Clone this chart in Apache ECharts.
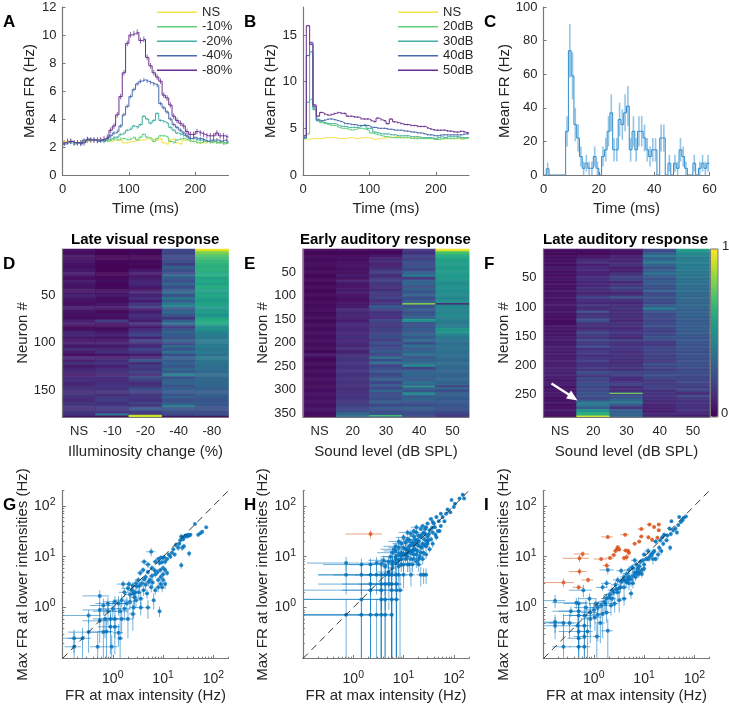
<!DOCTYPE html>
<html><head><meta charset="utf-8">
<style>html,body{margin:0;padding:0;background:#fff}#c{width:729px;height:705px}</style>
<script src="https://cdn.jsdelivr.net/npm/echarts@6/dist/echarts.min.js"></script>
</head><body><div id="c"></div>
<script>
// ---------- Panel A ---------- (mean FR, 5 ms bins)
const aNS =[2.4,2.4,2.4,2.3,2.3,2.4,2.4,2.4,2.5,2.5,2.5,2.5,2.5,2.5,2.4,2.5,2.5,2.5,2.3,2.3,2.4,2.4,2.5,2.5,2.5,2.6,2.6,2.5,2.5,2.6,2.3,2.2,2.5,2.6,2.3,2.2,2.5,2.5,2.4,2.4,2.3,2.3,2.3,2.4,2.3,2.3,2.4,2.3,2.3,2.3];
const a10 =[2.3,2.4,2.4,2.3,2.3,2.4,2.4,2.5,2.5,2.5,2.4,2.5,2.5,2.4,2.5,2.6,2.5,2.6,2.6,2.5,2.6,2.7,2.5,2.7,2.9,2.7,2.6,2.4,2.6,2.8,2.8,2.7,2.4,2.3,2.5,2.6,2.6,2.5,2.4,2.4,2.3,2.3,2.4,2.4,2.3,2.4,2.3,2.3,2.2,2.3];
const a20 =[2.3,2.4,2.3,2.2,2.3,2.3,2.4,2.5,2.5,2.5,2.5,2.4,2.5,2.5,2.6,2.7,2.7,2.9,3.0,3.2,3.3,3.5,3.4,3.6,4.2,4.0,3.7,3.9,4.4,3.9,3.8,3.7,3.4,3.2,3.0,2.9,2.8,2.7,2.6,2.6,2.5,2.5,2.5,2.4,2.4,2.4,2.3,2.4,2.3,2.3];
const a40 =[2.2,2.3,2.4,2.3,2.3,2.2,2.5,2.6,2.5,2.5,2.4,2.5,2.4,2.6,2.8,3.0,3.1,3.5,4.3,4.9,5.6,6.1,6.5,6.7,6.8,6.7,6.6,6.5,6.4,5.1,4.8,4.5,4.0,3.6,3.4,3.2,3.0,2.8,2.6,2.7,2.6,2.6,2.5,2.4,2.5,2.5,2.5,2.4,2.5,2.4];
const a80 =[2.3,2.4,2.4,2.3,2.3,2.3,2.3,2.5,2.5,2.5,2.5,2.5,2.6,2.7,3.2,3.5,4.3,5.6,7.3,9.4,10.0,10.1,10.2,9.6,9.7,8.4,7.8,7.3,7.0,6.7,5.7,5.5,5.0,4.2,3.9,3.7,3.5,3.1,2.9,2.9,3.1,3.0,2.9,2.8,2.8,2.8,3.0,2.8,2.8,2.7];
const aErr=[0.06,0.07,0.09,0.14,0.2];
const aNames=['NS','-10%','-20%','-40%','-80%'];
// ---------- Panel B ----------
const bNS =[3.9,3.8,3.9,3.9,3.9,3.9,4.0,4.0,4.0,4.0,3.9,3.9,3.9,4.0,4.0,3.9,3.9,4.0,4.0,4.0,3.9,3.8,3.9,3.9,4.0,4.0,4.0,4.1,4.1,4.0,4.0,4.0,4.0,4.0,4.0,4.0,3.9,3.9,3.9,3.9,3.8,3.8,3.9,3.9,3.9,3.9,3.9,3.8,3.9,3.9];
const b20 =[4.0,4.4,8.1,7.1,6.0,5.6,5.5,5.4,5.3,5.3,5.1,5.0,5.0,4.9,4.8,4.9,5.0,5.0,4.9,4.8,4.5,4.4,4.3,4.2,4.1,4.1,4.0,4.0,4.0,4.0,4.0,4.0,3.9,3.9,3.9,3.9,3.9,3.9,3.9,3.8,3.8,3.9,3.9,3.9,3.9,3.9,4.0,3.9,3.9,4.0];
const b30 =[3.9,7.8,13.2,7.0,5.8,5.7,5.6,5.5,5.5,5.5,5.3,5.2,5.2,5.1,5.1,5.1,5.1,5.3,5.4,5.0,5.0,4.6,4.5,4.4,4.4,4.4,4.3,4.3,4.2,4.2,4.2,4.2,4.1,4.1,4.1,4.0,4.0,4.0,4.0,3.9,4.0,4.1,4.0,4.1,4.1,4.1,4.1,4.0,4.0,4.0];
const b40 =[4.0,12.8,14.2,7.3,5.9,5.8,5.9,6.0,6.0,5.9,5.8,5.7,5.5,5.5,5.4,5.4,5.3,5.3,5.3,5.3,5.1,5.1,5.0,5.0,5.0,4.9,4.9,4.8,4.8,4.8,4.7,4.7,4.6,4.6,4.5,4.5,4.4,4.3,4.3,4.2,4.2,4.3,4.3,4.3,4.3,4.3,4.3,4.3,4.4,4.4];
const b50 =[4.2,16,14,7.5,6.3,6.7,6.5,6.4,6.5,6.6,6.7,6.6,6.6,6.3,6.3,6.2,6.2,6.0,6.0,6.0,5.8,5.7,6.1,5.9,5.8,5.5,6.0,5.7,5.6,5.5,5.4,5.4,5.3,5.3,5.2,5.2,5.2,5.0,4.9,4.8,4.8,4.8,4.8,4.7,4.7,4.6,4.6,4.7,4.6,4.5];
const bErr=[0.03,0.06,0.07,0.08,0.09];
const bNames=['NS','20dB','30dB','40dB','50dB'];
// ---------- Panel C ---------- (1 ms bins)
const cVal=[0,3.7,0,0,0,0,0,0,26,74,59,30,22,11,4,7,4,4,11,4,0,11,15,26,37,15,15,33,30,37,41,15,26,15,26,26,22,15,11,15,15,0,22,22,0,7,0,7,4,15,11,4,0,0,7,0,4,7,4,7];
const cErr=[0,3.7,0,0,0,0,0,0,9,16,14,10,8,6,4,5,4,4,6,4,0,6,7,9,11,7,7,10,9,11,12,7,9,7,9,9,8,7,6,7,7,0,8,8,0,5,0,5,4,7,6,4,0,0,5,0,4,5,4,5];
// ---------- Heat maps: percent of max per block of neurons ----------
const dCats=['NS','-10','-20','-40','-80'], eCats=['NS','20','30','40','50'], fCats=['NS','20','30','40','50'];
const dCount=178, eCount=358, fCount=288;
const dBlock=3, eBlock=6, fBlock=5;
const dNS=[5,4,6,4,7,5,4,6,8,5,4,9,6,5,7,6,10,7,5,4,8,6,5,4,3,9,8,3,4,10,12,7,5,9,6,13,8,4,11,9,14,7,10,13,8,12,14,10,13,15,12,16,14,12,15,16,14,15,14,6];
const d10=[1,1,1,2,2,1,1,1,1,2,2,3,1,2,3,5,7,4,3,6,8,4,3,5,4,18,6,4,3,7,10,6,5,10,7,12,14,6,9,12,15,9,13,15,11,13,12,14,16,14,15,13,16,18,14,16,17,16,30,4];
const d20=[2,2,1,2,2,3,1,6,9,5,8,10,11,7,5,13,9,14,7,16,18,9,8,14,12,8,15,6,12,17,22,10,19,14,11,20,16,8,12,27,13,18,15,22,12,24,18,13,15,23,19,16,17,14,20,15,28,18,16,10];
const d40=[22,20,23,20,24,18,30,25,22,34,28,25,33,24,28,35,26,38,30,42,33,28,34,26,15,30,36,18,25,32,28,26,30,22,34,26,38,24,30,28,32,26,34,28,42,26,30,32,26,30,28,26,30,24,28,38,26,24,22,6];
const d80=[88,80,72,68,66,64,62,64,60,62,58,60,56,62,58,55,60,56,54,58,55,52,56,50,58,62,60,48,50,44,42,40,42,40,42,38,42,36,40,38,38,36,36,34,35,34,33,34,32,30,30,30,28,26,28,26,25,24,24,5];
const dLines=[[4,0,98],[4,1,95],[2,176,92],[2,177,92],[1,175,42],[3,60,58],[3,166,45]];
const eNS=[2,2,2,2,3,2,3,2,2,2,2,3,2,2,2,2,2,2,2,2,3,2,2,3,3,2,3,3,3,3,3,3,3,3,3,3,2,7,2,2,3,3,2,3,3,3,4,4,3,4,4,4,4,5,4,4,5,5,4,1];
const e20=[2,2,2,3,5,3,6,4,3,8,4,10,6,4,7,9,4,5,3,6,8,12,10,12,9,8,12,11,12,11,12,13,11,12,10,14,9,13,14,15,15,14,15,16,14,15,14,15,14,13,15,13,14,16,16,18,20,22,32,35];
const e30=[2,2,5,10,14,7,12,15,18,13,16,19,15,14,13,18,15,20,12,16,28,22,14,16,12,22,18,15,20,18,22,24,17,26,20,22,28,22,26,23,35,20,24,27,22,24,30,22,28,20,34,22,26,24,30,22,28,24,25,40];
const e40=[16,14,20,18,24,22,26,20,30,38,16,30,34,24,30,26,32,24,28,30,26,30,24,28,30,50,26,24,30,26,32,28,34,24,36,28,32,38,26,32,34,44,20,30,34,30,28,36,30,34,26,45,28,32,26,24,30,26,24,22];
const e50=[88,70,62,58,56,55,54,55,53,54,52,50,48,50,50,48,47,46,48,46,46,45,44,48,44,42,40,42,46,52,44,40,38,36,38,36,38,36,35,34,36,34,34,33,32,32,34,32,30,32,24,30,30,28,28,27,26,24,22,14];
const eLines=[[3,116,84],[3,117,84],[3,118,84],[4,116,8],[4,117,8],[4,118,8],[2,232,52],[2,233,52],[3,150,56],[3,151,56],[4,170,58],[4,171,58],[3,292,55],[3,293,55],[4,292,10],[4,293,10],[2,355,70],[2,356,70],[4,0,98],[4,1,98],[4,2,98],[4,3,96]];
const fNS=[3,3,2,5,4,3,7,4,5,3,6,4,5,4,6,5,6,5,6,7,5,6,5,4,3,2,6,7,5,6,8,7,6,8,9,8,7,8,9,8,9,10,9,9,8,6,9,5,6,8,5,4,6,4,5,7,5,4];
const f20=[3,2,4,10,14,9,12,11,9,12,14,11,10,15,11,10,18,14,12,15,12,22,14,16,25,15,13,12,20,18,16,22,16,22,14,18,14,16,18,14,16,16,24,15,22,20,24,22,22,26,24,22,36,42,30,50,62,60];
const f30=[6,4,8,12,10,14,9,8,13,18,20,12,15,22,14,10,24,15,11,13,15,12,14,13,11,15,13,12,16,14,12,18,14,15,16,13,14,15,12,14,15,14,22,18,12,14,22,12,13,18,24,30,40,28,16,30,32,32];
const f40=[22,28,38,30,40,32,26,30,36,28,26,30,26,24,30,22,26,24,22,28,40,26,22,24,20,22,24,20,18,22,26,20,16,18,22,20,18,20,16,24,20,18,22,24,20,16,18,20,14,16,14,14,12,10,10,8,12,10];
const f50=[55,47,44,42,43,41,42,40,40,38,37,38,36,35,36,34,33,34,32,33,32,30,32,30,28,30,28,30,28,28,26,28,26,25,26,24,25,24,24,25,24,22,24,22,20,22,20,18,22,12,20,16,14,14,14,14,12,8];
const fLines=[[2,247,78],[2,248,78],[1,286,92],[1,287,92]];
// ---------- Scatter panels: [x, y, sem x, sem y] ----------
const gBlue=[[72,38,0,1.5],[60,31,1,1.5],[55,29,1,1.5],[50,27,1,2],[43,44,2,2],[35,27,2,2],[33,26,2,2],[31,27,2,2],[30,25,2,2],[28,26,2,2],[26,24,2,2],[25,22,2,2],[23,25,2,3],[22,21,2,2],[21,18,2,2],[20,15,2,2],[24,15,1,2],[26,16,1,2],[18,17,1,2],[16,14,1,1],[15,12,1,1],[14,10,1,1],[13,11,1,1],[17,11,1,1],[12,9,1,1],[11,8,1,1],[10,9.5,1,1],[9,9.5,1,1.2],[8,9,1,1],[33,11.5,1,1.5],[23,6.8,1,1],[5.8,12.5,1.2,2.4],[4.2,8,.6,1],[5,7,.7,1],[7,8,.8,1],[6,6,.7,.8],[4,5.5,.5,.7],[8.5,7.5,.7,.8],[10,6,.6,.8],[11,5.5,.7,.7],[12,4.8,.6,.6],[10,4.5,.8,.6],[9,4,.7,.6],[10,3.5,.6,.6],[9,2.9,.7,.5],[8,3.5,.7,.5],[7,4.5,.7,.7],[6,4.2,.7,.7],[5.5,3.5,.6,.8],[5,5,.5,.6],[4.5,4,.5,.6],[3.5,4.8,.5,.6],[3.2,3.5,.5,.5],[3.8,3,.5,.5],[4.5,2.8,.5,.5],[5.8,2.5,.6,.5],[7,2.2,.6,.4],[3,2.6,.5,.4],[2.8,2,.5,.4],[2.4,2.2,.4,.5],[2.2,1.8,.5,.4],[2,2.4,.5,.4],[1.6,2.9,.4,.5],[1.7,2,.4,.4],[3.3,2,.5,.5],[3.6,1.5,.5,.5],[2.7,1.6,.5,.5],[2.2,1.3,.5,.4],[1.9,1.2,.5,.4],[1.5,1.4,.5,.4],[1.3,1.2,.5,.5],[0.55,1.7,.3,.5],[0.65,1.1,.3,.4],[0.8,1.2,.35,.4],[1.1,1.3,.45,.4],[2.6,1.0,.5,.4],[3.6,1,.6,.3],[5,1,.7,.4],[6.5,1.4,.5,.5],[8.5,.85,.5,.2],[1.7,.95,.5,.4],[2.5,.75,.4,.4],[1.4,.85,.5,.4],[1,.95,.45,.4],[.8,.85,.4,.4],[.55,.9,.3,.4],[.33,.7,.24,.2],[.55,.55,.3,.35],[.7,.6,.3,.35],[.9,.6,.4,.3],[1.1,.6,.4,.35],[1.5,.6,.5,.3],[2,.6,.5,.35],[.9,.42,.4,.3],[1.1,.42,.3,.3],[.65,.33,.3,.25],[1.3,.32,.3,.15],[.33,.33,.2,.2],[.25,.25,.12,.15],[.17,.25,.09,.12],[.5,.17,.15,.15],[.95,.17,.3,.12],[.75,.34,.25,.3],[1.4,.25,.2,.2],[.17,.17,.06,.15],
[2.5,2.7,.4,.5],[2.9,3,.4,.5],[3.4,2.7,.5,.5],[2.1,2.9,.4,.5],[2.6,1.9,.4,.4],[2.9,1.4,.4,.4],[4.1,2.2,.5,.5],[4.8,1.9,.5,.4],[4.2,3.6,.5,.6],[5.1,3.2,.6,.6],[6.2,3.1,.6,.6],[6.8,5.4,.6,.7],[7.8,5,.7,.7],[8.8,5.5,.7,.7],[9.5,7.8,.7,.8],[10.5,9.8,.8,.9],[8,2.5,.6,.5],[11,2.9,.8,.6],[9.6,2.5,.6,.5]];
const hBlue=[[150,165,10,12],[130,140,8,8],[160,140,8,10],[105,110,6,6],[90,130,4,6],[100,95,6,6],[85,75,5,5],[75,85,5,6],[70,70,4,5],[60,60,4,4],[65,50,4,4],[55,70,4,4],[50,50,3,4],[45,60,4,4],[40,45,3,3],[35,55,4,4],[42,38,3,3],[55,40,3,3],[48,32,3,3],[38,30,3,3],[30,45,3,3],[28,38,3,3],[33,33,3,3],[25,30,3,3],[22,35,3,3],[30,25,3,3],[35,22,3,3],[26,22,3,3],[20,26,3,3],[18,30,3,4],[24,18,3,3],[28,16,3,3],[33,14,3,2],[20,20,2,3],[17,22,3,3],[14,28,3,4],[12,22,3,3],[16,17,2,2],[13,16,2,2],[15,13,2,2],[19,13,3,2],[22,12,3,2],[11,14,2,3],[9,18,3,3],[8,15,3,3],[10,11,2,2],[12,10,2,2],[14,9,2,2],[16,9,2,2],[18,8,2,2],[9,9,2,2],[7,10,3,3],[6,12,3,3],[7,7.5,2,2],[8,6.5,2,2],[6,6,2,2],[10,7,2,2],[12,7,2,2],[5,8,2,2],[5,5,2,2],[24,9,3,2],[18,11,3,2],[13,13,2,2],[11,9,2,2],[9,12,2,2],[7,13,3,3],[4,8.5,2,2],[6,8,2,2],[10,15,2,3],[15,19,3,3],[21,16,3,3],[27,28,3,3],[37,37,3,4],[16,25,3,3],[31,21,3,3],[43,27,3,3],[24,40,3,4],[19,17,2,2],[17,14,2,2],[14,12,2,2],[12,14,2,2],[11,11,2,2],[9,10.5,2,2],[8,8.5,2,2],[7,9,2,2],[6,7,2,2],[20,9,3,2],[25,12,3,2],[29,20,3,3],[26,17,3,2],[22,24,3,3],[16,32,3,4],[13,21,3,3],
[38,48,3,3],[52,32,3,3],[45,24,3,3],[30,18,3,3],[23,27,3,3],[19,21,3,3],[16,14,3,2],[14,17,3,3],[11,19,3,3],[10,24,3,4],[8,11,2,3],[7,16,3,3],[5.5,10,2,3],[6.5,14,3,3],[9,7,2,2],[13,7,2,2],[15,7,2,2],[20,7,3,2],[28,11,3,2],[38,18,3,3],[32,28,3,3],[27,35,3,4],[18,38,4,5],[12,30,4,4],[17,19,3,3],[23,15,3,2],[21,10,3,2],[16,11,3,2],[12,12,3,2],[8,20,3,4],
[.72,7.5,.6,2.4],[1.45,7,1.2,2.2],[2.2,7,1.4,2.2],[2.9,7.5,1.5,2.4],[3.6,7.2,1.6,2.3],[4.3,6.5,.8,2.2],
[.72,4.4,.52,2.6],[1.45,4.4,1.25,2.6],[2.2,4.4,1.8,2.6],[2.9,4.4,1.8,2.6],[3.6,4.4,2,2.6],[4.3,4.4,2.5,2.6],[5.1,4.4,2.5,2],[5.8,4.4,2.5,2],[7,4.4,2.5,2],[8,4.4,2,2],[10,4.4,2,2],[14,4.4,3,1.8],[22,4.4,4,1.8],[25,4.4,4,1.5],[28,4.4,3,1.5],
[2.2,2.9,2.0,2.0],[3.6,2.9,3,2],[4.3,2.9,3,2],[5.1,2.9,3,2],[5.8,2.9,3,2.8],[7.2,2.9,2,2.8],
[2.2,2.2,2.2,2.2],[3.6,2.2,3,2.2],[5.8,2.2,3,2.2],[7.2,2.2,2,2.2],[8.5,2.2,1.5,2.2],
[1.45,1.45,1.45,1.45],[3.6,1.45,3.6,1.45],[4.3,1.45,1.5,1.45],[5.8,1.45,2.5,1.45],[7.2,1.45,1,1.45],
[.72,.72,.72,.72],[1.45,.72,1.45,.72],[2.2,.72,1,.72],[2.9,.72,2.9,.72],[3.6,.72,1,.72],[4.3,.72,1,.72],[5.8,.72,.5,.72]];
const hOrange=[[2.2,28,1.5,5]];
const iBlue=[[68,62,3,4],[62,58,3,3],[58,52,3,3],[54,48,3,3],[50,60,3,3],[48,42,3,3],[45,30,2,3],[42,36,3,3],[38,33,2,3],[35,50,2,3],[34,28,3,3],[32,36,3,3],[29,26,3,3],[28,21,3,2],[25,27,2,3],[23,24,2,2],[33,15,1,2],[21,21,2,2],[20,15,2,2],[17,20,2,2],[22,13,2,2],[19,11,2,2],[15,12,2,2],[15,9,2,2],[13,10,2,2],[12,13,2,2],[11,9,1,1],[10,11,1,1],[10,7,1,1],[9,5.5,1,1],[8.5,8,1,1],[8,6.5,1,1],[8,5,1,1],[7,7,1,1],[7,5,1,1],[6.5,8.5,1,1],[6.5,4.8,1,1],[6,6,1,1],[6,4.2,1,1],[5.5,3.6,.8,1],[5,5.5,1,1],[5,4,.8,.8],[5,3,.8,.8],[4.5,4.6,.8,.8],[4.5,3.2,.8,.6],[4,4,.7,.7],[4,2.5,.7,.6],[3.5,5.3,.7,.8],[3.5,3.2,.6,.6],[3.2,2.4,.5,.5],[3,3.5,.6,.6],[3,2,.5,.5],[2.7,2.8,.5,.5],[2.5,2,.5,.5],[2.3,1.5,.5,.4],[2.1,1.8,.5,.4],[1.9,5.5,.6,1],[1.8,3,.4,.5],[1.8,1.5,.4,.4],[1.6,1.3,.4,.5],[1.5,2.5,.4,.4],[1.4,1.1,.4,.3],[1.2,1,.3,.3],[1.1,1.2,.3,.3],[1,.9,.3,.3],[4,1.5,.6,.4],[5.5,1.9,.6,.4],[3.2,1.4,.4,.6],[2.6,1.2,.5,.4],[2.2,1.1,.5,.4],[1.8,.8,.4,.3],[1.5,.75,.3,.5],[1.2,.72,.3,.5],[.82,1.5,.3,.4],[.62,2.2,.3,.6],[.5,1.2,.25,.4],[.7,1,.3,.4],[.85,.8,.3,.4],[.5,.85,.3,.3],[.17,1.37,.1,.4],[.45,1.25,.3,.3],[.35,.85,.2,.2],[.5,.7,.25,.4],[.65,.7,.3,.4],[.85,.6,.3,.4],[1.05,.65,.4,.3],[.25,.5,.15,.25],[.33,.5,.2,.25],[.17,.52,.09,.2],[.17,.44,.08,.2],[.48,.44,.25,.2],[.65,.44,.25,.2],[.5,.34,.3,.2],[.65,.27,.25,.2],[.75,.34,.2,.3],[.5,.25,.2,.2],[.25,.17,.1,.17],[.5,.17,.18,.17],[.65,.17,.2,.17],[1.9,.35,.5,.25],[1.15,.27,.2,.2],[1.35,.5,.3,.3],
[5.8,6.2,.7,.8],[7.5,5.8,.8,.8],[6.8,4,.7,.7],[7.6,4.5,.8,.7],[9,4.6,.8,.7],[10,5.8,.8,.8],[9.5,8.5,.8,.9],[12,9,1,1],[14,11,1,1],[17,9,1.5,1],[16,13,1,1],[24,18,1.5,2],[4.8,3.6,.6,.6],[4.2,3.4,.6,.6],[3.8,3.5,.5,.5],[3.4,2.5,.5,.5],[2.8,2.3,.4,.5],[2.3,2.2,.4,.4],[2,1.6,.4,.4],[1.7,1.2,.4,.4],[6,3,.7,.6]];
const iOrange=[[.25,3.1,.15,.6],[.52,5.1,.2,.8],[.77,3.5,.2,.4],[.5,2.5,.12,.3],[.52,9.3,.28,1.5],[.6,11.3,.2,1.5],[1.4,9,.4,.7],[2.1,9.4,.4,.8],[1.8,6.7,.3,1],[1.9,24.5,.5,2],[2.5,10.8,.3,1],[2.7,13,.3,1],[3,15.3,.3,1.5],[3.2,13.8,.3,1],[2.9,14,.3,1],[4.2,27,.8,2],[4,9.4,.4,1],[4.5,9.8,.4,1.5],[4.3,13.3,.6,1],[4.8,13,.5,1.5],[6.5,18,.6,1],[8,19.8,.7,1.5],[8.8,25,.8,1.5],[8.8,35,1.5,2],[12.8,43,1.5,3],[15.8,38.5,1.5,3],[19.6,43,1.5,3],[19.6,33,1.5,2],[12.2,24,1,2],[14.4,21.6,1,2],[18.4,23.6,1,2],[5,12,.5,1.5]];
const diagonal=[[0.1,0.1],[200,200]];
const logMajor=[1,10,100], logTicks=[0.1,1,10,100];
const logMinor=[.2,.3,.4,.5,.6,.7,.8,.9,2,3,4,5,6,7,8,9,20,30,40,50,60,70,80,90,200];

// ---------- Styles and layout ----------
const FONT='Liberation Sans', TXT='#262626', AX='#777777';
const lineCols=['#F3E24F','#62D27A','#45B0A2','#4A68AC','#6A2F8E'];
const viridis=['#440154','#482475','#414487','#355f8d','#2a788e','#21918c','#22a884','#44bf70','#7ad151','#bddf26','#fde725'];
const BLUE='#0072BD', ORANGE='#D95319';
const cols=[62.5,303,543.5], W=166, H=168;
const rows=[7,249,490.5];
const grid=[], xAxis=[], yAxis=[], series=[];
function addGrid(c,r,h){grid.push({left:cols[c],top:rows[r],width:W,height:h||H});return grid.length-1;}
const axBase={axisLine:{lineStyle:{color:AX,width:1.2},onZero:false},splitLine:{show:false},z:5,
  nameLocation:'middle',nameTextStyle:{fontFamily:FONT,fontSize:15,color:TXT},
  axisLabel:{fontFamily:FONT,fontSize:13,color:TXT},axisTick:{inside:true,length:3,lineStyle:{color:AX}}};
function valAxis(g,name,gap,min,max,interval,ticks,margin){
  return Object.assign({},axBase,{type:'value',gridIndex:g,name,nameGap:gap,min,max,interval,
    axisLabel:Object.assign({},axBase.axisLabel,{margin:margin||6},ticks?{customValues:ticks}:{}),
    axisTick:Object.assign({},axBase.axisTick,ticks?{customValues:ticks}:{})});
}
function steps(v,bin){const d=v.map((y,i)=>[i*bin,y]);d.push([v.length*bin,v[v.length-1]]);return d;}
function errData(v,e,bin){return v.map((y,i)=>[(i+.5)*bin,y,e[i]]);}
function vErr(color,lw,op){return function(p,api){
  const a=api.coord([api.value(0),api.value(1)-api.value(2)]),b=api.coord([api.value(0),api.value(1)+api.value(2)]);
  return {type:'line',shape:{x1:a[0],y1:a[1],x2:b[0],y2:b[1]},style:{stroke:color,lineWidth:lw,opacity:op},silent:true};};}
function linePanel(c,arrs,names,errs,xmax,ymax,yint,xt,yt,gapY){
  const g=addGrid(c,0);
  xAxis.push(valAxis(g,'Time (ms)',26,0,xmax,100,xt,8));
  yAxis.push(valAxis(g,'Mean FR (Hz)',gapY,0,ymax,yint,yt));
  const i=xAxis.length-1;
  arrs.forEach((v,k)=>{
    series.push({type:'custom',name:'err'+c+k,xAxisIndex:i,yAxisIndex:i,clip:true,encode:{x:0,y:1},silent:true,
      renderItem:vErr(lineCols[k],1,.75),data:errData(v,v.map(()=>errs[k]),5),z:2});
    series.push({type:'line',name:names[k],xAxisIndex:i,yAxisIndex:i,step:'end',symbol:'none',silent:true,
      lineStyle:{color:lineCols[k],width:1},itemStyle:{color:lineCols[k]},data:steps(v,5),z:3});
  });
}
linePanel(0,[aNS,a10,a20,a40,a80],aNames,aErr,250,12,2,[0,100,200],null,25);
linePanel(1,[bNS,b20,b30,b40,b50],bNames,bErr,250,18,5,[0,100,200],[0,5,10,15],24);
// panel C
{const g=addGrid(2,0);
 xAxis.push(valAxis(g,'Time (ms)',26,0,60,20,null,8));
 yAxis.push(valAxis(g,'Mean FR (Hz)',31,0,100,20));
 const i=xAxis.length-1;
 series.push({type:'custom',name:'errC',xAxisIndex:i,yAxisIndex:i,clip:true,encode:{x:0,y:1},silent:true,
   renderItem:vErr('#4a9fd8',1.6,.6),data:errData(cVal,cErr,1),z:2});
 series.push({type:'line',name:'C',xAxisIndex:i,yAxisIndex:i,step:'end',symbol:'none',silent:true,
   lineStyle:{color:'#2f8ccb',width:1},data:steps(cVal,1),z:3});
}
// heat maps
const heatIdx=[];
function heatPanel(c,title,cats,count,block,colsData,thin,xname){
  const g=addGrid(c,1);
  const names=[];for(let n=1;n<=count;n++)names.push(String(n));
  const every=50;
  xAxis.push(Object.assign({},axBase,{type:'category',gridIndex:g,data:cats,name:xname,nameGap:27,
    axisLabel:Object.assign({},axBase.axisLabel,{margin:8}),axisTick:Object.assign({},axBase.axisTick,{alignWithLabel:true})}));
  yAxis.push(Object.assign({},axBase,{type:'category',gridIndex:g,data:names,inverse:true,name:'Neuron #',nameGap:32,
    axisLabel:Object.assign({},axBase.axisLabel,{margin:7,interval:(i)=>(i+1)%every===0}),
    axisTick:Object.assign({},axBase.axisTick,{alignWithLabel:true,interval:(i)=>(i+1)%every===0})}));
  const data=[];
  colsData.forEach((col,j)=>{for(let n=0;n<count;n++){
    const k=Math.min(Math.floor(n/block),col.length-1);
    data.push([j,n,col[k]/100]);}});
  const pos={};data.forEach((d,idx)=>{pos[d[0]+'_'+d[1]]=idx;});
  thin.forEach(t=>{data[pos[t[0]+'_'+t[1]]][2]=t[2]/100;});
  const i=xAxis.length-1;
  heatIdx.push(series.length);
  series.push({type:'heatmap',name:title,xAxisIndex:i,yAxisIndex:i,data,silent:true,progressive:0,z:2,emphasis:{disabled:true}});
}
heatPanel(0,'Late visual response',dCats,dCount,dBlock,[dNS,d10,d20,d40,d80],dLines,'Illuminosity change (%)');
heatPanel(1,'Early auditory response',eCats,eCount,eBlock,[eNS,e20,e30,e40,e50],eLines,'Sound level (dB SPL)');
heatPanel(2,'Late auditory response',fCats,fCount,fBlock,[fNS,f20,f30,f40,f50],fLines,'Sound level (dB SPL)');
// scatter panels
function logLabel(v){const e=Math.round(Math.log10(v));return '{b|10}{s|'+e+'}';}
const rich={b:{fontFamily:FONT,fontSize:14,color:TXT},s:{fontFamily:FONT,fontSize:10.5,color:TXT,padding:[0,0,8,0]}};
function logAxis(g,name,gap,minor,isX){
  return Object.assign({},axBase,{type:'log',logBase:10,gridIndex:g,min:0.1,max:200,position:isX?'bottom':'left',name:minor?'':name,nameGap:gap,
    axisLine:{show:!minor,lineStyle:{color:AX,width:1.2},onZero:false},
    axisLabel:minor?{show:false}:{formatter:logLabel,rich,margin:isX?11:7,customValues:logMajor},
    axisTick:{inside:true,length:minor?1.8:3.5,lineStyle:{color:AX},customValues:minor?logMinor:logTicks}});
}
function errXY(color,op){return function(p,api){
  const x=api.value(0),y=api.value(1),sx=api.value(2),sy=api.value(3);
  const xl=Math.max(x-sx,0.01),xh=x+sx,yl=Math.max(y-sy,0.01),yh=y+sy;
  const a=api.coord([xl,y]),b=api.coord([xh,y]),c=api.coord([x,yl]),d=api.coord([x,yh]);
  return {type:'group',silent:true,children:[
    {type:'line',shape:{x1:a[0],y1:a[1],x2:b[0],y2:b[1]},style:{stroke:color,lineWidth:1,opacity:op}},
    {type:'line',shape:{x1:c[0],y1:c[1],x2:d[0],y2:d[1]},style:{stroke:color,lineWidth:1,opacity:op}}]};};}
function scatterPanel(c,blue,orange){
  const g=addGrid(c,2);
  xAxis.push(logAxis(g,'FR at max intensity (Hz)',30,false,true));
  yAxis.push(logAxis(g,'Max FR at lower intensities (Hz)',31,false,false));
  const i=xAxis.length-1;
  xAxis.push(logAxis(g,'',0,true,true)); yAxis.push(logAxis(g,'',0,true,false));
  const add=(pts,col,nm)=>{
    series.push({type:'custom',name:'e'+nm,xAxisIndex:i,yAxisIndex:i,clip:true,encode:{x:0,y:1},silent:true,renderItem:errXY(col,.55),data:pts,z:2});
    series.push({type:'scatter',name:'p'+nm,xAxisIndex:i,yAxisIndex:i,symbolSize:4,itemStyle:{color:col},silent:true,data:pts.map(p=>[p[0],p[1]]),z:4});
  };
  add(blue,BLUE,'b'+c);
  if(orange.length)add(orange,ORANGE,'o'+c);
  series.push({type:'line',name:'diag'+c,xAxisIndex:i,yAxisIndex:i,symbol:'none',silent:true,data:diagonal,
    lineStyle:{color:'#222',width:.9,type:[7,5]},z:5});
}
scatterPanel(0,gBlue,[]);
scatterPanel(1,hBlue,hOrange);
scatterPanel(2,iBlue,iOrange);

const T=(text,left,top,fs,w)=>({text,left,top,padding:0,textStyle:{fontFamily:FONT,fontSize:fs,fontWeight:w||'normal',color:w?'#000':TXT}});
const titles=[
 T('A',3,14,17,'bold'),T('B',244,14,17,'bold'),T('C',484,14,17,'bold'),
 T('D',3,256,17,'bold'),T('E',244,256,17,'bold'),T('F',484,256,17,'bold'),
 T('G',3,497,17,'bold'),T('H',244,497,17,'bold'),T('I',484,497,17,'bold'),
 T('Late visual response',71,232,15,'bold'),T('Early auditory response',300,232,15,'bold'),T('Late auditory response',543,232,15,'bold'),
 T('1',722,240,13),T('0',721,407,13)];
const legendBase={orient:'vertical',padding:0,itemWidth:40,itemHeight:1.5,itemGap:0,icon:'rect',selectedMode:false,
  textStyle:{fontFamily:FONT,fontSize:13,color:TXT,lineHeight:14.5,padding:[0,0,0,0]}};
const chart=echarts.init(document.getElementById('c'),null,{renderer:'canvas',width:729,height:705});
chart.setOption({animation:false,backgroundColor:'#fff',title:titles,grid,xAxis,yAxis,series,
 legend:[Object.assign({},legendBase,{left:157,top:5,data:aNames}),Object.assign({},legendBase,{left:398,top:5,data:bNames})],
 visualMap:{type:'continuous',min:0,max:1,seriesIndex:heatIdx,calculable:false,show:true,left:710.5,top:249,itemWidth:7.5,itemHeight:168,padding:0,
   showLabel:false,text:null,inRange:{color:viridis},hoverLink:false},
 graphic:[
  {type:'rect',shape:{x:710.5,y:249,width:7.5,height:168},style:{fill:'none',stroke:AX,lineWidth:1},z:100},
  {type:'line',shape:{x1:551.5,y1:383.5,x2:571,y2:396},style:{stroke:'#fff',lineWidth:2.2},z:100},
  {type:'polygon',shape:{points:[[577.5,400.5],[566,398.5],[571,390.5]]},style:{fill:'#fff'},z:100}
 ]});
</script></body></html>
